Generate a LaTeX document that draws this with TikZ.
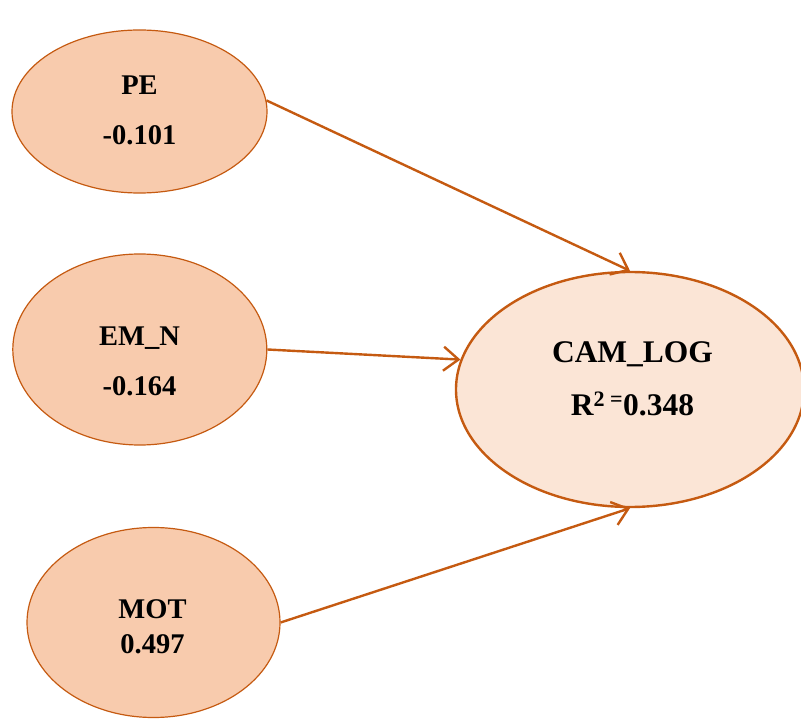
\documentclass[tikz,border=0pt]{standalone}
\usepackage{fontspec}
\setmainfont{Liberation Serif}
\usetikzlibrary{arrows.meta, shapes.geometric}
\definecolor{rust}{HTML}{C55A11}
\definecolor{peach}{HTML}{F8CBAD}
\definecolor{cream}{HTML}{FBE5D6}

\begin{document}
\begin{tikzpicture}[
  x=1pt, y=-1pt,
  latent/.style={ellipse, draw=rust, line width=1.2pt, fill=peach, inner sep=0pt},
  target/.style={ellipse, draw=rust, line width=2.4pt, fill=cream, inner sep=0pt},
  val/.style={align=center, inner sep=0pt, font=\fontsize{28.5}{50}\selectfont\bfseries},
  tight/.style={font=\fontsize{28.5}{34.7}\selectfont\bfseries},
  big/.style={font=\fontsize{31.5}{52.7}\selectfont\bfseries},
  effect/.style={draw=rust, line width=2.4pt,
                 -{Straight Barb[length=15pt, width=24pt, line width=2.4pt]}}
]
  \useasboundingbox (0,0) rectangle (801,719);

  % constructs
  \node[latent, minimum width=255pt, minimum height=163pt] (pe) at (139.5,111.5) {};
  \node[latent, minimum width=254pt, minimum height=191pt] (emn) at (139.8,349.5) {};
  \node[latent, minimum width=253pt, minimum height=190pt] (mot) at (153.5,622.5) {};
  \node[target, minimum width=348pt, minimum height=235pt] (cam) at (630,389.5) {};

  % texts
  \node[val] (pe-txt) at (139.5,110) {PE\\-0.101};
  \node[val] (emn-txt) at (139.5,361) {EM\_N\\-0.164};
  \node[val, tight] (mot-txt) at (152.5,627) {MOT\\0.497};
  \node[val, big] (cam-txt) at (632.5,379) {CAM\_LOG\\R\textsuperscript{2 =}0.348};

  % paths
  \draw[effect] (pe.5) -- (cam.north);
  \draw[effect] (emn.east) -- (cam.170);
  \draw[effect] (mot.east) -- (cam.south);
\end{tikzpicture}
\end{document}
